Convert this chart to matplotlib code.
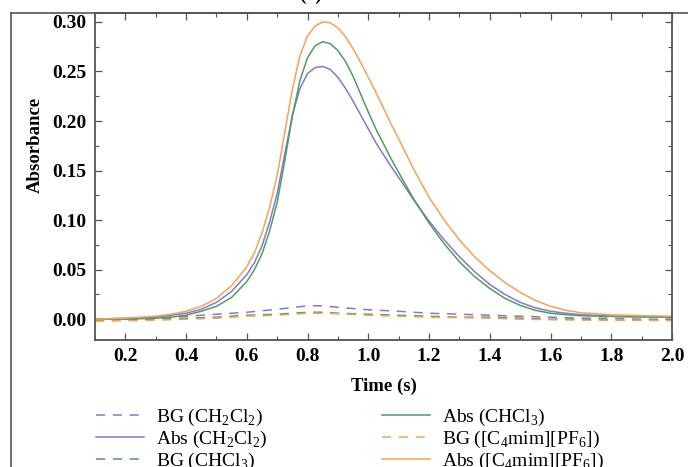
import numpy as np
import matplotlib
matplotlib.use("Agg")
import matplotlib.pyplot as plt
from matplotlib.lines import Line2D
from matplotlib.ticker import MultipleLocator, FormatStrFormatter

plt.rcParams['font.family'] = ['Liberation Serif', 'DejaVu Serif']
plt.rcParams['mathtext.fontset'] = 'custom'
plt.rcParams['mathtext.rm'] = 'Liberation Serif'

# time grid for the absorbance curves
t_abs = [0.10, 0.20, 0.30, 0.35, 0.40, 0.45, 0.50, 0.55,
         0.600, 0.625, 0.650, 0.675, 0.700, 0.725, 0.750, 0.775, 0.800, 0.825,
         0.850, 0.875, 0.900, 0.925, 0.950, 0.975, 1.000, 1.025, 1.050, 1.075, 1.100,
         1.15, 1.20, 1.25, 1.30, 1.35, 1.40, 1.45, 1.50, 1.55, 1.60, 1.65, 1.70,
         1.80, 1.90, 2.00]

abs_ch2cl2 = [0.000, 0.001, 0.002, 0.004, 0.006, 0.010, 0.017, 0.028,
              0.045, 0.057, 0.074, 0.098, 0.127, 0.167, 0.206, 0.233, 0.248, 0.254,
              0.255, 0.252, 0.244, 0.233, 0.220, 0.206, 0.192, 0.178, 0.166, 0.154, 0.143,
              0.120, 0.099, 0.080, 0.063, 0.048, 0.035, 0.025, 0.017, 0.0115, 0.008, 0.006, 0.0045,
              0.003, 0.0025, 0.002]

abs_chcl3 = [0.000, 0.000, 0.001, 0.002, 0.004, 0.008, 0.013, 0.022,
             0.038, 0.050, 0.066, 0.089, 0.118, 0.160, 0.205, 0.241, 0.264, 0.276,
             0.280, 0.278, 0.271, 0.260, 0.245, 0.227, 0.209, 0.192, 0.177, 0.162, 0.148,
             0.121, 0.097, 0.076, 0.058, 0.043, 0.031, 0.021, 0.014, 0.009, 0.006, 0.0045, 0.0035,
             0.0028, 0.0023, 0.002]

abs_il = [0.000, 0.001, 0.003, 0.005, 0.008, 0.013, 0.021, 0.034,
          0.053, 0.067, 0.087, 0.113, 0.145, 0.189, 0.232, 0.266, 0.286, 0.296,
          0.300, 0.299, 0.294, 0.285, 0.273, 0.259, 0.244, 0.229, 0.213, 0.197, 0.182,
          0.151, 0.123, 0.100, 0.080, 0.063, 0.049, 0.037, 0.027, 0.019, 0.013, 0.009, 0.0065,
          0.0045, 0.0035, 0.003]

# time grid for the background curves
t_bg = [0.1, 0.2, 0.3, 0.4, 0.5, 0.6, 0.7, 0.8, 0.85, 0.9, 1.0, 1.1, 1.2,
        1.3, 1.4, 1.5, 1.6, 1.7, 1.8, 1.9, 2.0]

bg_ch2cl2 = [-0.001, 0.000, 0.001, 0.003, 0.005, 0.007, 0.010, 0.0135, 0.0135, 0.012,
             0.0095, 0.008, 0.006, 0.005, 0.004, 0.003, 0.002, 0.001, 0.001, 0.000, 0.000]
bg_chcl3 = [-0.001, -0.001, 0.000, 0.001, 0.002, 0.004, 0.005, 0.007, 0.007, 0.006,
            0.005, 0.004, 0.003, 0.002, 0.002, 0.001, 0.000, 0.000, -0.001, -0.001, -0.001]
bg_il = [-0.002, -0.0015, -0.001, 0.000, 0.001, 0.003, 0.004, 0.006, 0.006, 0.0055,
         0.004, 0.003, 0.002, 0.0015, 0.001, 0.000, -0.0005, -0.001, -0.001, -0.001, -0.0015]

purple = '#8878c8'
green = '#4e9d62'
orange = '#f7a05a'
spine_c = '#555555'

fig = plt.figure(figsize=(6.88, 4.67), dpi=100)
ax = fig.add_axes([95/688, 1-340/467, (672-95)/688, (340-13)/467])

dash = (6, 5)
l1, = ax.plot(t_bg, bg_ch2cl2, color=purple, lw=1.1, dashes=dash, label=r'BG (CH$_2$Cl$_2$)')
l3, = ax.plot(t_bg, bg_chcl3, color=green, lw=1.1, dashes=dash, label=r'BG (CHCl$_3$)')
l5, = ax.plot(t_bg, bg_il, color=orange, lw=1.1, dashes=dash, label=r'BG ([C$_4$mim][PF$_6$])')
l2, = ax.plot(t_abs, abs_ch2cl2, color=purple, lw=1.1, label=r'Abs (CH$_2$Cl$_2$)')
l4, = ax.plot(t_abs, abs_chcl3, color=green, lw=1.1, label=r'Abs (CHCl$_3$)')
l6, = ax.plot(t_abs, abs_il, color=orange, lw=1.1, label=r'Abs ([C$_4$mim][PF$_6$])')

ax.set_xlim(0.1, 2.0)
ax.set_ylim(-0.021, 0.309)
ax.xaxis.set_major_locator(MultipleLocator(0.2))
ax.xaxis.set_minor_locator(MultipleLocator(0.1))
ax.yaxis.set_major_locator(MultipleLocator(0.05))
ax.yaxis.set_minor_locator(MultipleLocator(0.025))
ax.xaxis.set_major_formatter(FormatStrFormatter('%.1f'))
ax.yaxis.set_major_formatter(FormatStrFormatter('%.2f'))

for s in ax.spines.values():
    s.set_color(spine_c)
    s.set_linewidth(1.3)

ax.tick_params(which='both', direction='in', top=True, right=True, color=spine_c)
ax.tick_params(which='major', length=5, width=0.9, labelsize=14, pad=6)
ax.tick_params(which='minor', length=3, width=0.8)
for lab in ax.get_xticklabels() + ax.get_yticklabels():
    lab.set_fontweight('bold')

ax.set_xlabel('Time (s)', fontsize=13.5, fontweight='bold', labelpad=9)
ax.set_ylabel('Absorbance', fontsize=13.5, fontweight='bold')
ax.yaxis.set_label_coords(-0.089, (340-145)/327)

# legends below the axes, two columns
leg_kw = dict(loc='upper left', frameon=False, fontsize=14, handlelength=2.5,
              handletextpad=0.6, labelspacing=0.05, borderaxespad=0)
leg1 = fig.legend(handles=[l1, l2, l3], bbox_to_anchor=(88/688, 1-399/467), **leg_kw)
leg2 = fig.legend(handles=[l4, l5, l6], bbox_to_anchor=(374/688, 1-399/467), **leg_kw)

# outer frame of the panel
fig.add_artist(Line2D([11.5/688, 11.5/688], [0, 1-13/467], transform=fig.transFigure,
                      color=spine_c, lw=1.2))
fig.add_artist(Line2D([11.5/688, 1], [1-13/467, 1-13/467], transform=fig.transFigure,
                      color=spine_c, lw=1.2))
fig.text(311/688, 1-4/467, '(a)', ha='center', va='bottom', fontsize=14, fontweight='bold')

fig.savefig('out.png', dpi=100)
